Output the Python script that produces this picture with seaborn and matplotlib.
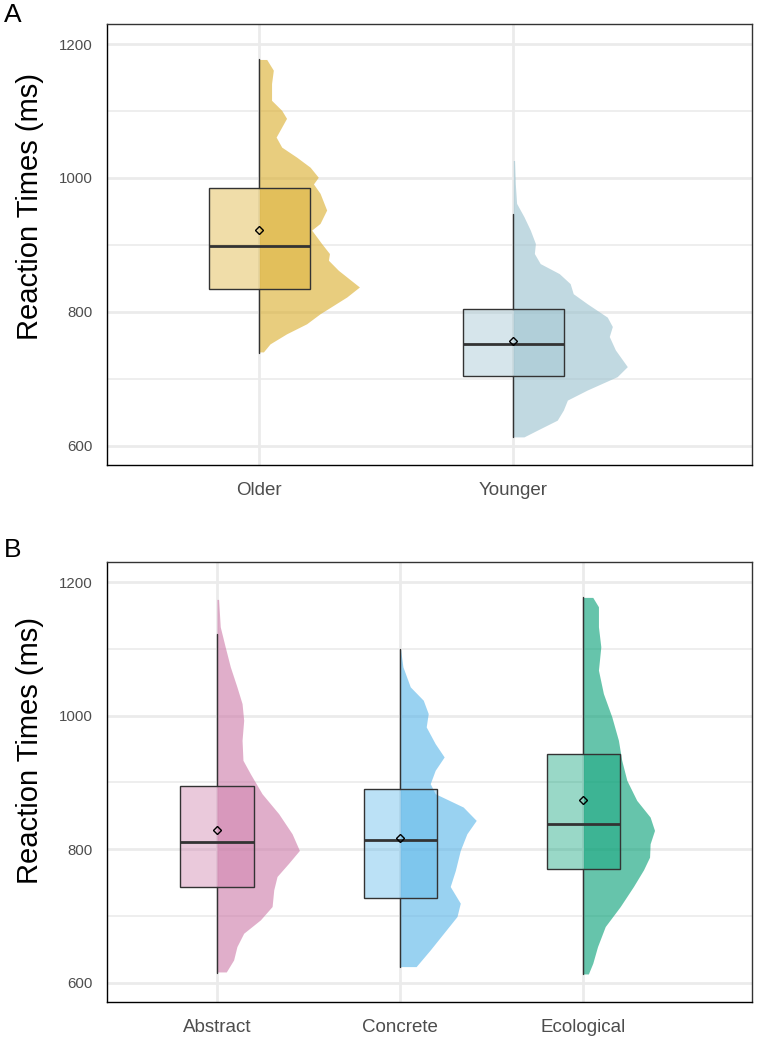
import numpy as np
import matplotlib.pyplot as plt
import seaborn as sns

# ---- panel A: age groups ----
groups = ["Older", "Younger"]
group_colors = ["#DAAC28", "#99C0CD"]

# half-violin outlines: RT (ms) and density (x 1/100 category width)
older_rt = [1177, 1161, 1141, 1116, 1101, 1089, 1076, 1061, 1046, 1031, 1016, 1001, 991, 977,
            952, 932, 922, 902, 887, 877, 862, 837, 822, 797, 782, 767, 752, 740]
older_dens = [2.9, 5.5, 4.8, 4.8, 8.8, 10.7, 8.8, 6.6, 8.8, 14.7, 20.0, 23.2, 21.3, 23.9,
              26.5, 23.9, 20.6, 24.5, 27.6, 27.2, 31.1, 39.4, 34.4, 23.9, 18.6, 10.7, 4.2, 1.6]
younger_rt = [1026, 991, 962, 942, 922, 902, 887, 872, 857, 842, 827, 812, 792, 778,
              763, 743, 718, 703, 683, 668, 653, 638, 623, 613]
younger_dens = [0.5, 0.8, 1.3, 4.2, 6.7, 8.7, 8.3, 10.6, 18.1, 22.4, 23.6, 29.1, 37.0, 39.0,
                37.8, 40.2, 44.9, 40.9, 29.1, 21.3, 19.7, 17.3, 9.4, 4.2]

# box stats: lower whisker, q1, median, q3, upper whisker, mean
older_box = [738, 834, 898, 985, 1177, 922]
younger_box = [613, 704, 752, 803.5, 946, 757]

# ---- panel B: stimulus type ----
stimuli = ["Abstract", "Concrete", "Ecological"]
stim_colors = ["#CC79A7", "#56B4E9", "#009E73"]

abstract_rt = [1174, 1133, 1103, 1073, 1043, 1018, 993, 963, 933, 913, 883, 853, 823, 798,
               779, 759, 739, 714, 694, 674, 654, 634, 616]
abstract_dens = [0.9, 1.8, 4.5, 7.3, 10.9, 13.7, 14.6, 13.7, 14.2, 18.2, 24.6, 33.7, 41.0, 45.0,
                 39.2, 32.8, 31.0, 30.1, 23.7, 14.6, 10.9, 9.1, 5.1]
concrete_rt = [1099, 1073, 1043, 1023, 1003, 983, 958, 938, 918, 898, 883, 863, 843, 823,
               798, 768, 744, 719, 699, 674, 649, 624]
concrete_dens = [0.2, 1.5, 5.5, 12.6, 15.3, 14.2, 19.1, 24.0, 19.1, 16.4, 19.1, 34.4, 41.5, 36.4,
                 32.8, 30.1, 27.3, 32.8, 31.0, 23.7, 16.4, 8.7]
ecological_rt = [1177, 1163, 1133, 1103, 1068, 1033, 998, 963, 933, 903, 873, 848, 828, 808,
                 788, 769, 744, 714, 684, 654, 629, 613]
ecological_dens = [5.1, 8.2, 8.2, 9.5, 8.2, 10.9, 15.5, 19.1, 20.9, 23.7, 29.1, 36.4, 38.8, 36.4,
                   36.1, 32.8, 27.3, 20.1, 11.9, 7.7, 5.1, 2.7]

abstract_box = [615, 742.6, 810, 894.3, 1122, 829]
concrete_box = [624, 727, 813.4, 890.3, 1099, 816]
ecological_box = [613, 770, 837.4, 941.7, 1177, 873]

sns.set_theme(style="white")
plt.rcParams['font.family'] = ['Liberation Sans', 'DejaVu Sans']
plt.rcParams['text.color'] = 'black'

EDGE = "#333333"
GRID = "#EBEBEB"


def draw_panel(ax, names, colors, rts, dens, boxes, xmax):
    ax.set_axisbelow(True)
    for y in [700, 900, 1100]:
        ax.axhline(y, color=GRID, lw=1.2, zorder=0)
    for y in [600, 800, 1000, 1200]:
        ax.axhline(y, color=GRID, lw=2.0, zorder=0)
    for i in range(len(names)):
        ax.axvline(i, color=GRID, lw=2.0, zorder=0)

    for i, (c, rt, d, b) in enumerate(zip(colors, rts, dens, boxes)):
        rt = np.asarray(rt, float)
        d = np.asarray(d, float) / 100.0
        ax.fill_betweenx(rt, i, i + d, color=c, alpha=0.6, lw=0, zorder=1)
        stats = [dict(whislo=b[0], q1=b[1], med=b[2], q3=b[3], whishi=b[4], mean=b[5])]
        ax.bxp(stats, positions=[i], widths=0.4, patch_artist=True,
               showfliers=False, showcaps=False, showmeans=True, manage_ticks=False,
               boxprops=dict(facecolor=(*plt.matplotlib.colors.to_rgb(c), 0.4),
                             edgecolor=EDGE, lw=1.0),
               whiskerprops=dict(color=EDGE, lw=1.0),
               medianprops=dict(color=EDGE, lw=2.0),
               meanprops=dict(marker="D", markersize=4.2, markerfacecolor="none",
                              markeredgecolor="black", markeredgewidth=1.0),
               zorder=2)

    ax.set_xlim(-0.6, xmax)
    ax.set_ylim(571, 1230)
    ax.set_xticks(range(len(names)))
    ax.set_xticklabels(names, fontsize=13.5, color="#4D4D4D")
    ax.set_yticks([600, 800, 1000, 1200])
    ax.tick_params(axis="y", length=0, pad=10, labelsize=10.8, labelcolor="#4D4D4D")
    ax.tick_params(axis="x", length=0, pad=12)
    for side in ["top", "right"]:
        ax.spines[side].set_color(EDGE)
        ax.spines[side].set_linewidth(1.0)
    for side in ["left", "bottom"]:
        ax.spines[side].set_color("black")
        ax.spines[side].set_linewidth(1.0)
    ax.grid(False)


fig = plt.figure(figsize=(7.67, 10.38), dpi=100)
W, H = 767, 1038
axA = fig.add_axes([107 / W, 1 - 465 / H, 645 / W, 441 / H])
axB = fig.add_axes([107 / W, 1 - 1002 / H, 645 / W, 440 / H])

draw_panel(axA, groups, group_colors, [older_rt, younger_rt], [older_dens, younger_dens],
           [older_box, younger_box], 1.94)
draw_panel(axB, stimuli, stim_colors, [abstract_rt, concrete_rt, ecological_rt],
           [abstract_dens, concrete_dens, ecological_dens],
           [abstract_box, concrete_box, ecological_box], 2.92)

fig.text(30 / W, 1 - 207 / H, "Reaction Times (ms)", rotation=90, ha="center", va="center",
         fontsize=21, color="black")
fig.text(30 / W, 1 - 750 / H, "Reaction Times (ms)", rotation=90, ha="center", va="center",
         fontsize=21, color="black")
fig.text(4 / W, 1 - 3 / H, "A", ha="left", va="top", fontsize=19, color="black")
fig.text(4 / W, 1 - 538 / H, "B", ha="left", va="top", fontsize=19, color="black")

plt.savefig("out.png", dpi=100)
